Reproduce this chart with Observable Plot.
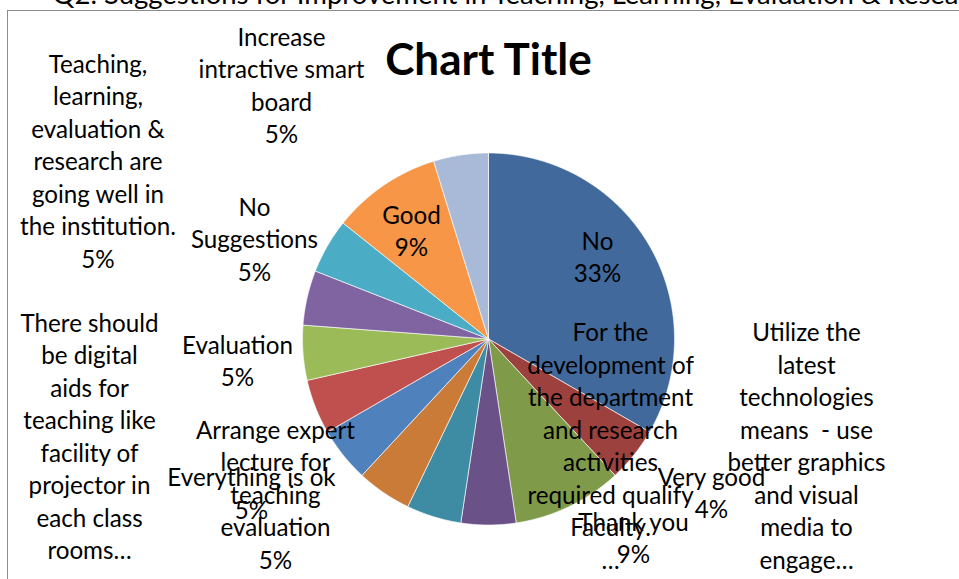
<!DOCTYPE html>
<html><head><meta charset="utf-8">
<script src="https://cdn.jsdelivr.net/npm/d3@7"></script>
<script src="https://cdn.jsdelivr.net/npm/@observablehq/plot@0.6"></script>
<style>
html,body{margin:0;padding:0;background:#fff;overflow:hidden;}
#wrap{position:relative;width:959px;height:579px;overflow:hidden;background:#fff;}
#wrap svg{overflow:hidden;display:block;}
#border{position:absolute;left:7px;top:9.5px;right:-10px;bottom:-10px;border-left:1.7px solid #8c8c8c;border-top:1.7px solid #8c8c8c;pointer-events:none;}
</style></head><body>
<div id="wrap"><div id="chart"></div><div id="border"></div></div>
<script>
// ---- data (clockwise from 12 o'clock) ----
const categories = [
  "No", "Very good", "Thank you",
  "For the development of the department and research activities required qualify Faculty.",
  "Utilize the latest technologies means  - use better graphics and visual media to engage students",
  "Everything is ok", "Arrange expert lecture for teaching evaluation",
  "There should be digital aids for teaching like facility of projector in each class rooms",
  "Evaluation",
  "Teaching, learning, evaluation & research are going well in the institution.",
  "No Suggestions", "Good", "Increase intractive smart board"
];
const counts = [7, 1, 2, 1, 1, 1, 1, 1, 1, 1, 1, 2, 1];
const percentLabels = ["33%", "4%", "9%", "5%", "5%", "5%", "5%", "5%", "5%", "5%", "5%", "9%", "5%"];
// wrapped label text as shown on the chart (truncated ones end with an ellipsis)
const labelLines = [
  ["No"],
  ["Very good"],
  ["Thank you"],
  ["For the", "development of", "the department", "and research", "activities", "required qualify", "Faculty.", "\u2026"],
  ["Utilize the", "latest", "technologies", "means  - use", "better graphics", "and visual", "media to", "engage\u2026"],
  ["Everything is ok"],
  ["Arrange expert", "lecture for", "teaching", "evaluation"],
  ["There should", "be digital", "aids for", "teaching like", "facility of", "projector in", "each class", "rooms\u2026"],
  ["Evaluation"],
  ["Teaching,", "learning,", "evaluation &", "research are", "going well in", "the institution."],
  ["No", "Suggestions"],
  ["Good"],
  ["Increase", "intractive smart", "board"]
];
const sliceColors = ["#41699b", "#9d413e", "#7f9a48", "#6a5187", "#3d8ca3", "#cb7b38",
  "#4f81bd", "#c0504d", "#9bbb59", "#8064a2", "#4bacc6", "#f79646", "#a9b9d8"];
const chartTitle = "Chart Title";
const heading = "Q2. Suggestions for Improvement in Teaching, Learning, Evaluation & Research";

// ---- layout (pixels relative to the pie centre) ----
const W = 959, H = 579, CX = 488, CY = 338.5, R = 186;
const LINE = 32.5;
// label anchor: centre x and first baseline, as placed in the original
const labelLayout = [
  [109, -89.5], [223, 146.5], [145, 191.5], [122, 2], [318, 2], [-237, 147],
  [-213, 99.5], [-399, -7.5], [-251, 14.5], [-390.5, -266.5], [-234, -123.5], [-77, -115.5], [-207, -293.5]
];

const pie = d3.pie().sort(null).startAngle(0).endAngle(2 * Math.PI)(counts);
const slicePts = [];
pie.forEach((a, i) => {
  slicePts.push({s: i, x: 0, y: 0, c: sliceColors[i]});
  const n = Math.max(2, Math.ceil((a.endAngle - a.startAngle) / 0.005));
  for (let k = 0; k <= n; ++k) {
    const t = a.startAngle + (a.endAngle - a.startAngle) * k / n;
    slicePts.push({s: i, x: R * Math.sin(t), y: -R * Math.cos(t), c: sliceColors[i]});
  }
  slicePts.push({s: i, x: 0, y: 0, c: sliceColors[i]});
});

const textRows = [];
categories.forEach((c, i) => {
  const name = labelLines[i];
  const truncated = name[name.length - 1].endsWith("\u2026");
  const lines = truncated ? [...name] : [...name, percentLabels[i]];
  const [lx, ly] = labelLayout[i];
  lines.forEach((t, j) => textRows.push({t, x: lx, y: ly + j * LINE}));
});

const FONT = "Lato, 'Open Sans', sans-serif";
const plot = Plot.plot({
  width: W, height: H, margin: 0,
  x: {domain: [-CX, W - CX], range: [0, W], axis: null},
  y: {domain: [-CY, H - CY], range: [0, H], axis: null},
  color: {type: "identity"},
  style: {fontFamily: FONT, background: "white", overflow: "hidden"},
  marks: [
    Plot.line(slicePts, {x: "x", y: "y", z: "s", fill: "c", stroke: "white", strokeWidth: 0.8, strokeOpacity: 0.8}),
    Plot.text(textRows, {x: "x", y: "y", text: "t", textAnchor: "middle", lineAnchor: "bottom", fontSize: 24.2, fill: "black"}),
    Plot.text([chartTitle], {x: 0, y: -264, text: d => d, textAnchor: "middle", lineAnchor: "bottom", fontSize: 44, fontWeight: "bold", fill: "black"}),
    Plot.text([heading], {x: 52 - CX, y: 3.5 - CY, text: d => d, textAnchor: "start", lineAnchor: "bottom", fontSize: 27.5, fill: "black"})
  ]
});
document.getElementById("chart").appendChild(plot);
</script>
</body></html>
